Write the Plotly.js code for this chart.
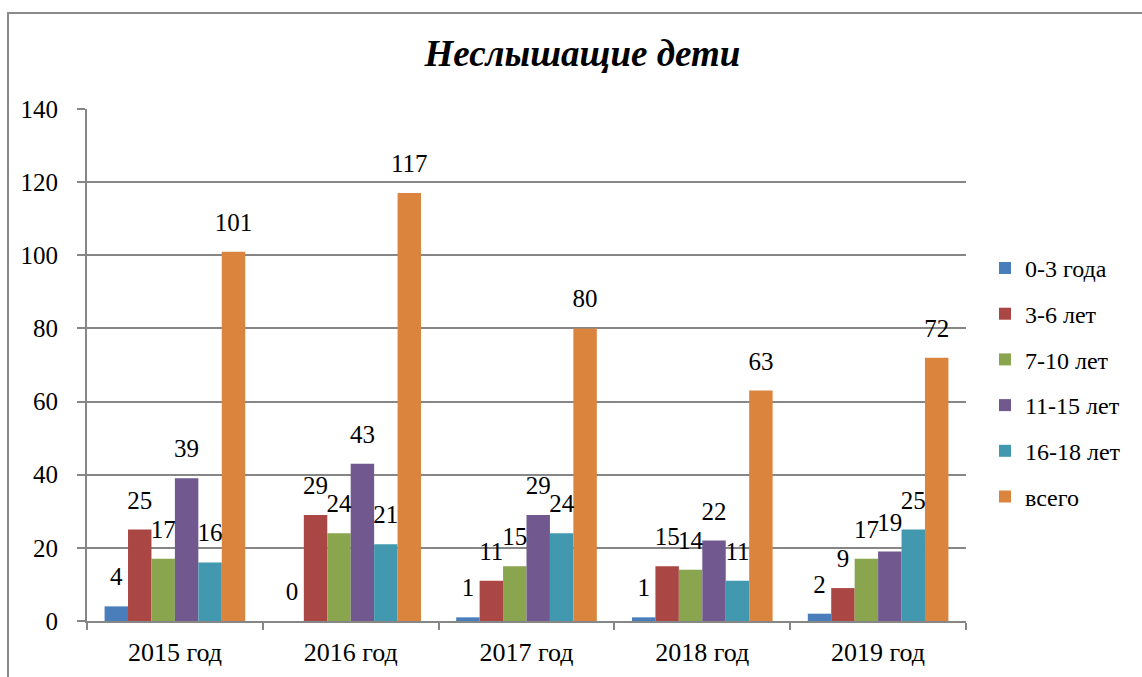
<!DOCTYPE html>
<html><head><meta charset="utf-8">
<script src="https://cdn.plot.ly/plotly-3.0.1.min.js"></script>
<style>
html,body{margin:0;padding:0;background:#fff;}
#frame{position:absolute;left:7px;top:12px;width:1300px;height:800px;border:2px solid #8a8a8a;box-sizing:border-box;}
#chart{position:absolute;left:0;top:0;width:1142px;height:677px;}
</style></head>
<body>
<div id="frame"></div>
<div id="chart"></div>
<script>
const categories = ['2015 год','2016 год','2017 год','2018 год','2019 год'];
const seriesNames = ['0-3 года','3-6 лет','7-10 лет','11-15 лет','16-18 лет','всего'];
const s0_3 = [4, 0, 1, 1, 2];
const s3_6 = [25, 29, 11, 15, 9];
const s7_10 = [17, 24, 15, 14, 17];
const s11_15 = [39, 43, 29, 22, 19];
const s16_18 = [16, 21, 24, 11, 25];
const sTotal = [101, 117, 80, 63, 72];
const colors = ['#4A7EBB','#AA4643','#89A54E','#71588F','#4198AF','#DB843D'];
const allSeries = [s0_3, s3_6, s7_10, s11_15, s16_18, sTotal];
const font = 'Liberation Serif';

const barTraces = allSeries.map((vals, i) => ({
  type: 'bar',
  name: seriesNames[i],
  x: categories,
  y: vals,
  marker: {color: colors[i]},
  offsetgroup: 'g' + i,
  legendgroup: 'g' + i,
  hoverinfo: 'none'
}));

const labelTraces = allSeries.map((vals, i) => ({
  type: 'scatter',
  mode: 'markers+text',
  x: categories,
  y: vals,
  text: vals.map(String),
  textposition: 'top center',
  textfont: {family: font, size: 25, color: '#000'},
  marker: {size: 22, opacity: 0, color: colors[i]},
  offsetgroup: 'g' + i,
  showlegend: false,
  cliponaxis: false,
  hoverinfo: 'none'
}));

const layout = {
  width: 1142, height: 677,
  paper_bgcolor: 'rgba(0,0,0,0)',
  plot_bgcolor: 'rgba(0,0,0,0)',
  margin: {l: 87, r: 176, t: 109, b: 56},
  barmode: 'group',
  bargap: 0.2,
  bargroupgap: 0,
  scattermode: 'group',
  scattergap: 0.2,
  font: {family: font, size: 25, color: '#000'},
  title: {text: '<b><i>Неслышащие дети</i></b>', x: 0.51, xanchor: 'center', y: 0.921, yanchor: 'middle',
          font: {family: font, size: 37, color: '#000'}},
  xaxis: {
    type: 'category',
    showline: true, linecolor: '#868686', linewidth: 2,
    ticks: 'outside', tickson: 'boundaries', ticklen: 7, tickcolor: '#868686', tickwidth: 2,
    showgrid: false,
    tickfont: {family: font, size: 26, color: '#000'},
    ticklabelstandoff: 7
  },
  yaxis: {
    range: [0, 140], dtick: 20,
    showline: true, linecolor: '#868686', linewidth: 2,
    ticks: 'outside', ticklen: 8, tickcolor: '#868686', tickwidth: 2,
    showgrid: true, gridcolor: '#868686', gridwidth: 2,
    zeroline: false,
    tickfont: {family: font, size: 25, color: '#000'},
    ticklabelstandoff: 14
  },
  showlegend: true,
  legend: {
    x: 1.0216, xanchor: 'left', y: 0.466, yanchor: 'middle',
    font: {family: font, size: 24, color: '#000'},
    traceorder: 'grouped',
    tracegroupgap: 11.5,
    bgcolor: 'rgba(0,0,0,0)'
  }
};

Plotly.newPlot('chart', barTraces.concat(labelTraces), layout, {displayModeBar: false, staticPlot: true});
</script>
</body></html>
